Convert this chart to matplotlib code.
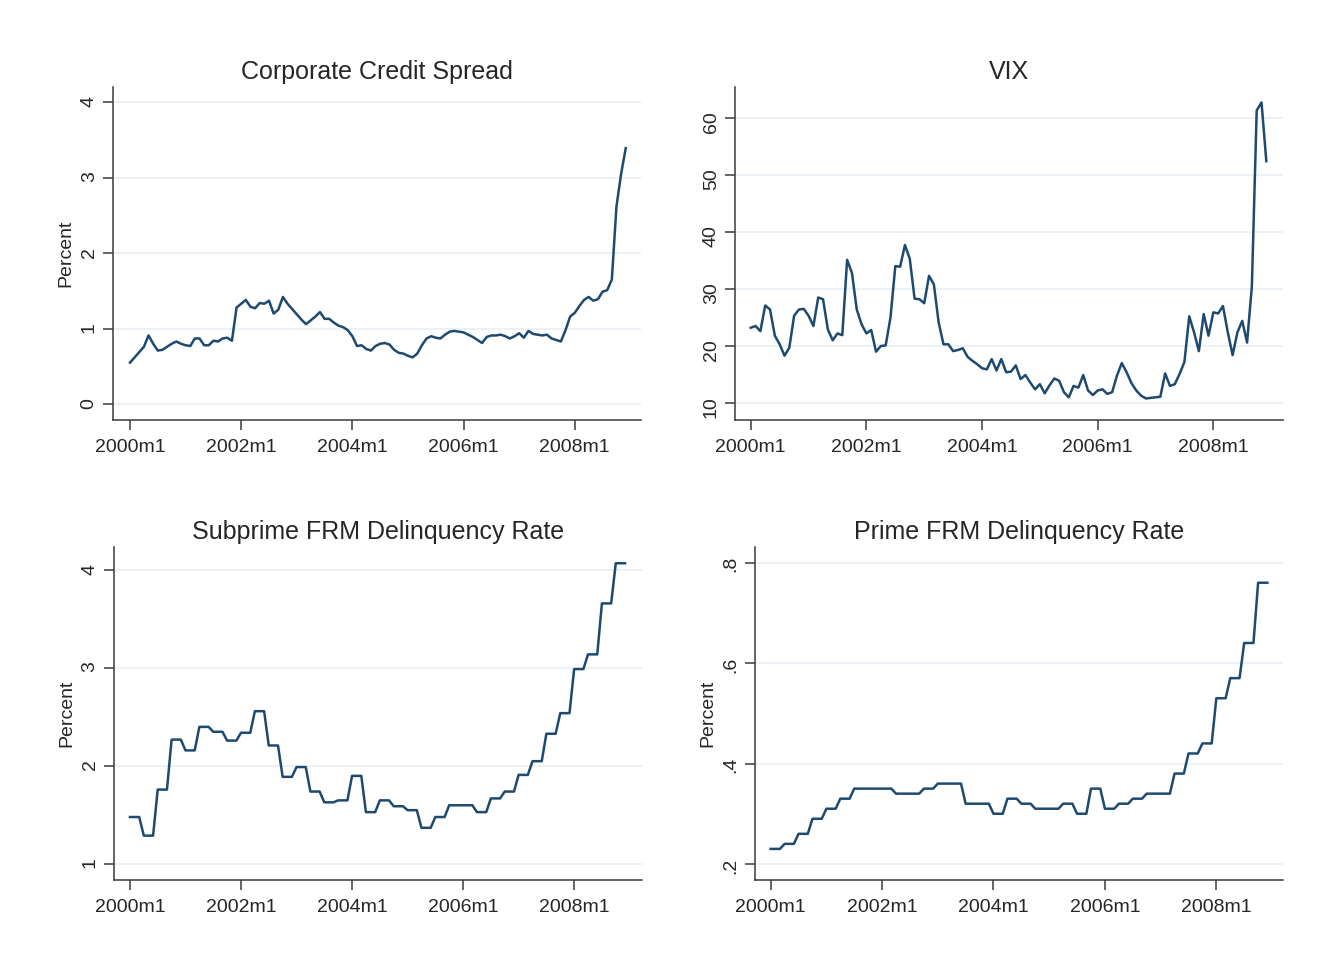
import numpy as np
from matplotlib import pyplot as plt

plt.rcParams['font.family'] = ['Liberation Sans', 'DejaVu Sans']

# monthly series, 2000m1 .. 2008m12 (108 months)
credit_spread = [
    0.55, 0.62, 0.69, 0.76, 0.91, 0.80, 0.71, 0.72, 0.76, 0.80, 0.83, 0.80,
    0.78, 0.77, 0.87, 0.87, 0.78, 0.78, 0.84, 0.83, 0.87, 0.88, 0.84, 1.28,
    1.33, 1.38, 1.29, 1.27, 1.34, 1.33, 1.37, 1.20, 1.25, 1.42, 1.33, 1.26,
    1.19, 1.12, 1.06, 1.11, 1.16, 1.22, 1.13, 1.13, 1.08, 1.04, 1.02, 0.98,
    0.90, 0.77, 0.78, 0.73, 0.71, 0.77, 0.80, 0.81, 0.79, 0.72, 0.68, 0.67,
    0.64, 0.62, 0.67, 0.78, 0.87, 0.90, 0.88, 0.87, 0.92, 0.96, 0.97, 0.96,
    0.95, 0.92, 0.89, 0.85, 0.81, 0.89, 0.91, 0.91, 0.92, 0.90, 0.87, 0.90,
    0.94, 0.88, 0.97, 0.93, 0.92, 0.91, 0.92, 0.87, 0.85, 0.83, 0.98, 1.16,
    1.21, 1.30, 1.38, 1.42, 1.37, 1.39, 1.49, 1.51, 1.65, 2.62, 3.05, 3.39,
]
vix = [
    23.2, 23.5, 22.6, 27.1, 26.4, 21.8, 20.3, 18.3, 19.7, 25.3, 26.4, 26.5,
    25.3, 23.5, 28.5, 28.2, 22.9, 21.0, 22.2, 21.9, 35.1, 32.8, 26.4, 23.8,
    22.2, 22.8, 19.0, 20.0, 20.1, 25.0, 34.0, 33.9, 37.7, 35.3, 28.3, 28.2,
    27.5, 32.3, 30.8, 24.1, 20.3, 20.3, 19.1, 19.3, 19.6, 18.1, 17.4, 16.8,
    16.1, 15.9, 17.7, 15.7, 17.7, 15.4, 15.5, 16.6, 14.2, 14.9, 13.6, 12.4,
    13.3, 11.7, 13.1, 14.3, 13.9, 11.9, 11.0, 13.0, 12.7, 14.9, 12.2, 11.4,
    12.2, 12.4, 11.6, 11.9, 14.8, 17.0, 15.4, 13.5, 12.2, 11.3, 10.8, 10.9,
    11.0, 11.1, 15.2, 13.0, 13.3, 15.1, 17.2, 25.2, 22.4, 19.1, 25.6, 21.8,
    25.9, 25.7, 27.0, 22.4, 18.4, 22.4, 24.4, 20.6, 30.5, 61.3, 62.7, 52.4,
]

# quarterly delinquency rates, 2000q1 .. 2008q4; each quarter is held for its 3 months
subprime_frm_q = [
    1.48, 1.29, 1.76, 2.27, 2.16, 2.40, 2.35, 2.26, 2.34, 2.56, 2.21, 1.89,
    1.99, 1.74, 1.63, 1.65, 1.90, 1.53, 1.65, 1.59, 1.55, 1.37, 1.48, 1.60,
    1.60, 1.53, 1.67, 1.74, 1.91, 2.05, 2.33, 2.54, 2.99, 3.14, 3.66, 4.07,
]
prime_frm_q = [
    0.23, 0.24, 0.26, 0.29, 0.31, 0.33, 0.35, 0.35, 0.35, 0.34, 0.34, 0.35,
    0.36, 0.36, 0.32, 0.32, 0.30, 0.33, 0.32, 0.31, 0.31, 0.32, 0.30, 0.35,
    0.31, 0.32, 0.33, 0.34, 0.34, 0.38, 0.42, 0.44, 0.53, 0.57, 0.64, 0.76,
]

tick_months = [0, 24, 48, 72, 96]
tick_labels = ["2000m1", "2002m1", "2004m1", "2006m1", "2008m1"]

months = np.arange(len(credit_spread))
subprime_frm = np.repeat(subprime_frm_q, 3)
prime_frm = np.repeat(prime_frm_q, 3)

LINE_COLOR = "#1f4a70"
GRID_COLOR = "#e5edf1"
AXIS_COLOR = "#3a3a3a"
TEXT_COLOR = "#262626"

panels = [
    dict(values=credit_spread, title="Corporate Credit Spread", percent=True,
         pos=[0.0851, 0.5643, 0.3976, 0.3454], xlim=(-3.67, 110.3), ylim=(-0.21, 4.2),
         yticks=[0, 1, 2, 3, 4], ylabels=["0", "1", "2", "3", "4"]),
    dict(values=vix, title="VIX", percent=False,
         pos=[0.5535, 0.5643, 0.4124, 0.3454], xlim=(-3.26, 110.4), ylim=(7.02, 65.4),
         yticks=[10, 20, 30, 40, 50, 60], ylabels=["10", "20", "30", "40", "50", "60"]),
    dict(values=subprime_frm, title="Subprime FRM Delinquency Rate", percent=True,
         pos=[0.0858, 0.0871, 0.3974, 0.3454], xlim=(-3.46, 110.6), ylim=(0.837, 4.235),
         yticks=[1, 2, 3, 4], ylabels=["1", "2", "3", "4"]),
    dict(values=prime_frm, title="Prime FRM Delinquency Rate", percent=True,
         pos=[0.5685, 0.0871, 0.3974, 0.3454], xlim=(-3.38, 110.3), ylim=(0.168, 0.831),
         yticks=[0.2, 0.4, 0.6, 0.8], ylabels=[".2", ".4", ".6", ".8"]),
]

fig = plt.figure(figsize=(13.28, 9.64), dpi=100)

for p in panels:
    ax = fig.add_axes(p["pos"])
    ax.plot(months, p["values"], color=LINE_COLOR, lw=1.8, solid_joinstyle="round")

    ax.set_xlim(*p["xlim"])
    ax.set_ylim(*p["ylim"])
    ax.set_xticks(tick_months, tick_labels)
    ax.set_yticks(p["yticks"], p["ylabels"])

    ax.yaxis.grid(True, color=GRID_COLOR, lw=1.1)
    ax.set_axisbelow(True)
    for side in ("top", "right"):
        ax.spines[side].set_visible(False)
    for side in ("left", "bottom"):
        ax.spines[side].set_color(AXIS_COLOR)
        ax.spines[side].set_linewidth(1.1)

    ax.tick_params(direction="out", length=7, width=1.1, color=AXIS_COLOR,
                   labelsize=14, labelcolor=TEXT_COLOR, pad=7)
    ax.tick_params(axis="y", labelrotation=90, pad=4)

    width_px = p["pos"][2] * 1328
    height_px = p["pos"][3] * 964
    ax.text(0.5, 1 + 15 / height_px, p["title"], transform=ax.transAxes,
            ha="center", va="center", fontsize=18, color=TEXT_COLOR)
    if p["percent"]:
        ax.text(-47 / width_px, 0.5, "Percent", transform=ax.transAxes,
                rotation=90, ha="center", va="center", fontsize=14, color=TEXT_COLOR)

fig.savefig("out.png", dpi=100, facecolor="white")
